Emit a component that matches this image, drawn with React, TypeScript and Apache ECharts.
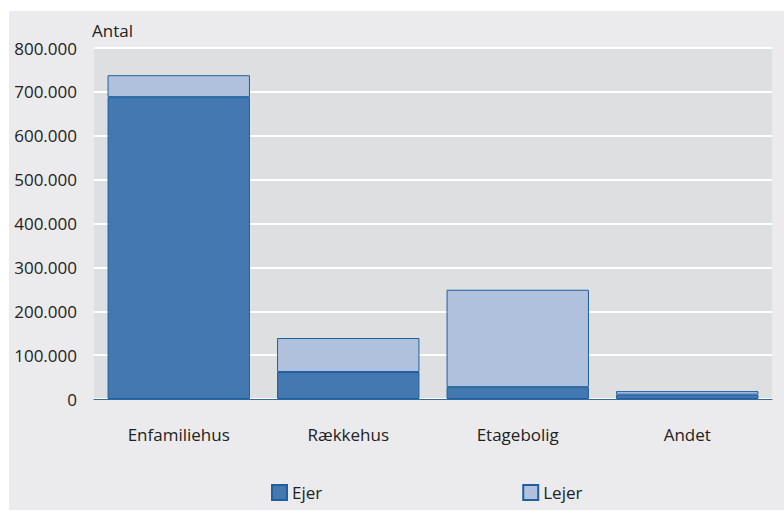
import React, { useEffect, useRef } from "react";
import * as echarts from "echarts";

const categories = ["Enfamiliehus", "Rækkehus", "Etagebolig", "Andet"];
const ejer = [688000, 61500, 27000, 10000];
const lejer = [50000, 77500, 222000, 8000];
const yTicks = [0, 100000, 200000, 300000, 400000, 500000, 600000, 700000, 800000];

const fmt = (v: number) => (v === 0 ? "0" : (v / 1000).toFixed(0) + ".000");

export default function App() {
  const ref = useRef<HTMLDivElement>(null);
  useEffect(() => {
    const chart = echarts.init(ref.current!, null, { renderer: "svg" });
    const font = "'Open Sans', 'Noto Sans', sans-serif";
    chart.setOption({
      animation: false,
      textStyle: { fontFamily: font },
      graphic: [
        {
          type: "rect",
          z: -10,
          shape: { x: 9, y: 11, width: 775, height: 499 },
          style: { fill: "#ebebed" },
          silent: true,
        },
        {
          type: "text",
          left: 92,
          top: 22,
          style: { text: "Antal", fontSize: 17, fill: "#222", fontFamily: font },
        },
      ],
      grid: {
        left: 94,
        right: 12,
        top: 48,
        bottom: 114,
        show: true,
        backgroundColor: "#dedfe0",
        borderWidth: 0,
      },
      legend: {
        bottom: 7,
        left: 266,
        itemGap: 200,
        itemWidth: 15,
        itemHeight: 15,
        icon: "rect",
        textStyle: { fontSize: 17, color: "#222", fontFamily: font },
        data: ["Ejer", "Lejer"],
      },
      xAxis: {
        type: "category",
        data: categories,
        axisLine: { lineStyle: { color: "#2f6aa6", width: 1 } },
        axisTick: { show: false },
        axisLabel: { margin: 27, fontSize: 17, color: "#222", fontFamily: font },
      },
      yAxis: {
        type: "value",
        min: 0,
        max: yTicks[yTicks.length - 1],
        interval: 100000,
        axisLine: { show: false },
        axisTick: { show: false },
        splitLine: { lineStyle: { color: "#ffffff", width: 2 } },
        axisLabel: {
          margin: 17,
          fontSize: 17,
          color: "#222",
          fontFamily: font,
          formatter: (v: number) => fmt(v),
        },
      },
      series: [
        {
          name: "Ejer",
          type: "bar",
          stack: "a",
          data: ejer,
          barCategoryGap: "16%",
          itemStyle: { color: "#4378b0", borderColor: "#1f5f9e", borderWidth: 1 },
        },
        {
          name: "Lejer",
          type: "bar",
          stack: "a",
          data: lejer,
          barCategoryGap: "16%",
          itemStyle: { color: "#b0c1de", borderColor: "#1f5f9e", borderWidth: 1 },
        },
      ],
    });
    return () => chart.dispose();
  }, []);
  return (
    <div
      ref={ref}
      style={{ position: "absolute", left: 0, top: 0, width: 784, height: 513, background: "#fff" }}
    />
  );
}
